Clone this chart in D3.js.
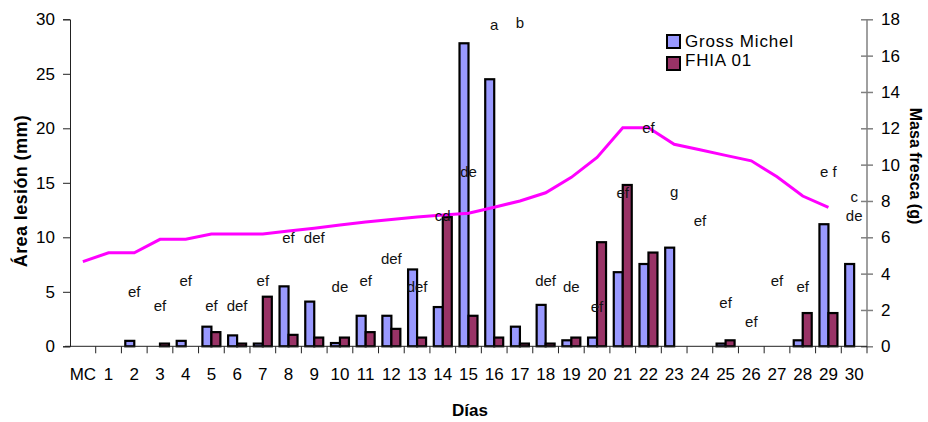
<!DOCTYPE html>
<html>
<head>
<meta charset="utf-8">
<script src="https://cdn.jsdelivr.net/npm/d3@7"></script>
<style>
  body { margin: 0; background: #fff; }
  text { font-family: "Liberation Sans", Arial, sans-serif; }
</style>
</head>
<body>
<svg width="928" height="422"></svg>
<script>
var days = ['MC','1','2','3','4','5','6','7','8','9','10','11','12','13','14','15',
            '16','17','18','19','20','21','22','23','24','25','26','27','28','29','30'];

// área de lesión (mm), eje izquierdo
var grossMichel = [0, 0, 0.5, 0, 0.5, 1.8, 1.0, 0.25, 5.5, 4.1, 0.3, 2.8, 2.8, 7.05, 3.6, 27.8,
                   24.5, 1.8, 3.8, 0.55, 0.8, 6.8, 7.55, 9.05, 0, 0.25, 0, 0, 0.55, 11.2, 7.55];
var fhia01 = [0, 0, 0, 0.25, 0, 1.3, 0.25, 4.55, 1.05, 0.8, 0.8, 1.3, 1.6, 0.8, 11.85, 2.8,
              0.8, 0.25, 0.25, 0.8, 9.55, 14.8, 8.6, 0, 0, 0.55, 0, 0, 3.05, 3.05, 0];

// masa fresca (g), eje derecho (sin dato el día 30)
var masaFresca = [4.66, 5.15, 5.15, 5.89, 5.89, 6.18, 6.18, 6.18, 6.35, 6.5, 6.68, 6.84, 6.98,
                  7.12, 7.23, 7.33, 7.65, 8.0, 8.45, 9.3, 10.4, 12.03, 12.03, 11.12, 10.82,
                  10.51, 10.21, 9.33, 8.27, 7.65, null];

// letras de significación: día y altura en unidades del eje izquierdo
var letterText = ['ef','ef','ef','ef','def','ef','ef','def','de','ef','def','def','cd','de','a','b',
                  'def','de','ef','ef','ef','g','ef','ef','ef','ef','ef','e f','c','de'];
var letterDay = ['2','3','4','5','6','7','8','9','10','11','12','13','14','15','16','17',
                 '18','19','20','21','22','23','24','25','26','27','28','29','30','30'];
var letterVal = [4.5, 3.25, 5.5, 3.25, 3.25, 5.5, 9.5, 9.5, 5.0, 5.5, 7.55, 5.0, 11.5, 15.5, 29.0, 29.2,
                 5.5, 5.0, 3.15, 13.6, 19.6, 13.7, 11.05, 3.5, 1.8, 5.5, 5.0, 15.5, 13.25, 11.5];

var leftTicks = [0, 5, 10, 15, 20, 25, 30];
var rightTicks = [0, 2, 4, 6, 8, 10, 12, 14, 16, 18];
var seriesNames = ['Gross Michel', 'FHIA 01'];
var colors = ['#9999FF', '#993366'];

var margin = {top: 19.3, bottom: 75.7, left: 70, right: 61};
var width = 928, height = 422;
var svg = d3.select('svg');

var xScale = d3.scaleBand()
    .domain(days)
    .range([margin.left, width - margin.right])
    .padding(0);
var x1 = d3.scaleBand()
    .domain(seriesNames)
    .range([0, xScale.bandwidth()])
    .paddingInner(0)
    .paddingOuter(0.43);
var yLeft = d3.scaleLinear().domain([0, 30]).range([height - margin.bottom, margin.top]);
var yRight = d3.scaleLinear().domain([0, 18]).range([height - margin.bottom, margin.top]);

// bars
var rows = days.map((d, i) => ({day: d, vals: [grossMichel[i], fhia01[i]]}));
var groups = svg.append('g').selectAll('g')
    .data(rows).enter().append('g')
    .attr('transform', d => 'translate(' + xScale(d.day) + ',0)');
groups.selectAll('rect')
    .data(d => d.vals.map((v, k) => ({name: seriesNames[k], v: v, k: k})).filter(e => e.v > 0))
    .enter().append('rect')
    .attr('x', e => x1(e.name))
    .attr('width', x1.bandwidth())
    .attr('y', e => yLeft(e.v))
    .attr('height', e => yLeft(0) - yLeft(e.v))
    .attr('fill', e => colors[e.k])
    .attr('stroke', '#000')
    .attr('stroke-width', 2.2);

// axes
var yAxisL = d3.axisLeft(yLeft).tickValues(leftTicks).tickSize(7).tickPadding(8);
var gl = svg.append('g')
    .attr('transform', 'translate(' + margin.left + ',0)')
    .call(yAxisL);
gl.selectAll('text').attr('font-size', 17).attr('fill', '#000');
gl.selectAll('line, path').attr('stroke', '#222');

var yAxisR = d3.axisRight(yRight).tickValues(rightTicks).tickSize(6).tickPadding(8);
var gr = svg.append('g')
    .attr('transform', 'translate(' + (width - margin.right) + ',0)')
    .call(yAxisR);
gr.selectAll('line').attr('x1', -6);
gr.select('.domain').attr('d', 'M0,' + yRight(0) + 'V' + yRight(18));
gr.selectAll('line, path').attr('stroke', '#808080').attr('stroke-width', 1.5);
gr.selectAll('text').attr('font-size', 17).attr('fill', '#000');

var xAxis = d3.axisBottom(xScale).tickSize(0).tickPadding(22);
var gx = svg.append('g')
    .attr('transform', 'translate(0,' + yLeft(0) + ')')
    .call(xAxis);
gx.select('.domain').attr('d', 'M' + (margin.left - 5) + ',0H' + (width - margin.right)).attr('stroke', '#222');
gx.selectAll('text').attr('font-size', 17).attr('fill', '#000');
gx.selectAll('.bound')
    .data(days.slice(1).concat(['end']))
    .enter().append('line')
    .attr('class', 'bound')
    .attr('x1', d => d === 'end' ? width - margin.right : xScale(d))
    .attr('x2', d => d === 'end' ? width - margin.right : xScale(d))
    .attr('y1', 0).attr('y2', 7)
    .attr('stroke', '#222');

// masa fresca line
var line = d3.line()
    .defined(d => d.v !== null)
    .x(d => xScale(d.day) + xScale.bandwidth() / 2)
    .y(d => yRight(d.v));
svg.append('path')
    .datum(days.map((d, i) => ({day: d, v: masaFresca[i]})))
    .attr('d', line)
    .attr('fill', 'none')
    .attr('stroke', '#FF00FF')
    .attr('stroke-width', 3);

// letters
svg.append('g').selectAll('text')
    .data(letterText.map((t, i) => ({t: t, day: letterDay[i], v: letterVal[i]})))
    .enter().append('text')
    .attr('x', d => xScale(d.day) + xScale.bandwidth() / 2)
    .attr('y', d => yLeft(d.v))
    .attr('text-anchor', 'middle')
    .attr('font-size', 15)
    .attr('fill', '#111')
    .text(d => d.t);

// legend
var lg = svg.append('g').attr('transform', 'translate(667,35)');
seriesNames.forEach((n, i) => {
    lg.append('rect')
        .attr('x', 0).attr('y', i * 22)
        .attr('width', 13).attr('height', 13)
        .attr('fill', colors[i])
        .attr('stroke', '#000').attr('stroke-width', 2);
    lg.append('text')
        .attr('x', 18).attr('y', i * 19 + 12)
        .attr('font-size', 17)
        .attr('letter-spacing', 0.8)
        .text(n);
});

// axis titles
svg.append('text')
    .attr('transform', 'translate(27,191) rotate(-90)')
    .attr('text-anchor', 'middle')
    .attr('font-size', 18).attr('font-weight', 'bold')
    .attr('letter-spacing', 0.4)
    .text('Área lesión (mm)');
svg.append('text')
    .attr('transform', 'translate(910,166) rotate(90)')
    .attr('text-anchor', 'middle')
    .attr('font-size', 16).attr('font-weight', 'bold')
    .text('Masa fresca (g)');
svg.append('text')
    .attr('x', 470).attr('y', 416)
    .attr('text-anchor', 'middle')
    .attr('font-size', 17).attr('font-weight', 'bold')
    .text('Días');
</script>
</body>
</html>
